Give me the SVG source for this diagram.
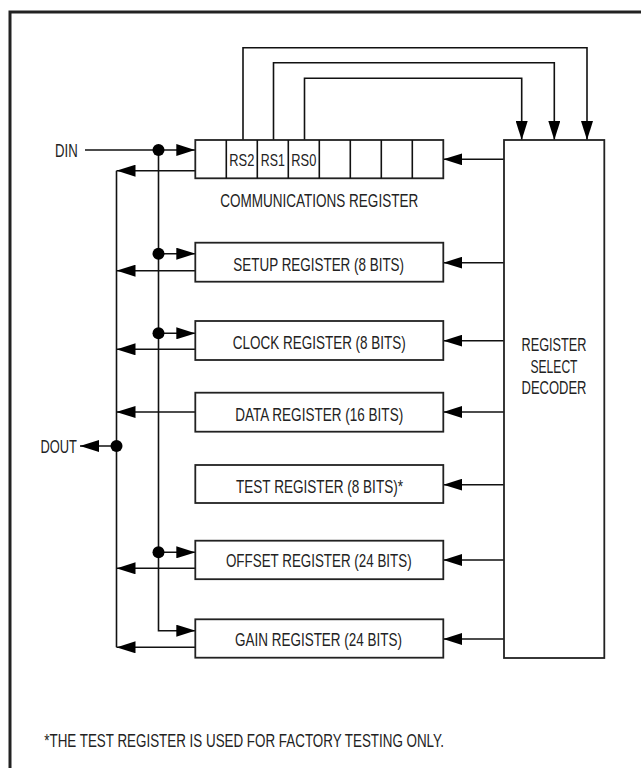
<svg xmlns="http://www.w3.org/2000/svg" width="641" height="768" viewBox="0 0 641 768">
  <style>
    .frame { fill: none; stroke: #222; stroke-width: 3; }
    .box { fill: #fff; stroke: #222; stroke-width: 1.8; }
    .ln { fill: none; stroke: #111; stroke-width: 1.6; }
    .arr { fill: none; stroke: #111; stroke-width: 1.6; marker-end: url(#ah); }
    .dot { fill: #000; }
    .t { font-family: "Liberation Sans", Arial, sans-serif; font-size: 18.5px; fill: #222; }
    .s { font-size: 17px; }
    .c { text-anchor: middle; }
  </style>
  <defs>
    <marker id="ah" viewBox="0 0 19 12" refX="19" refY="6" markerWidth="19" markerHeight="12" orient="auto" markerUnits="userSpaceOnUse">
      <path d="M0,0 L19,6 L0,12 Z" fill="#000"/>
    </marker>
  </defs>
  <rect width="641" height="768" fill="#fff"/>
  <path class="frame" d="M10,768 V12 H641"/>

  <g id="connectors">
    <!-- feedback RS bits to decoder -->
    <path class="arr" d="M243,140 V47.7 H587 V140"/>
    <path class="arr" d="M273.5,140 V62.7 H554.3 V140"/>
    <path class="arr" d="M304.5,140 V78.3 H521.7 V140"/>
    <!-- DIN -->
    <path class="arr" d="M85,150 H195.3"/>
    <path class="arr" d="M158.5,150 V630.7 H195.3"/>
    <path class="arr" d="M158.5,253.7 H195.3"/>
    <path class="arr" d="M158.5,333.3 H195.3"/>
    <path class="arr" d="M158.5,552.3 H195.3"/>
    <circle class="dot" cx="158.5" cy="150" r="6"/>
    <circle class="dot" cx="158.5" cy="253.7" r="6"/>
    <circle class="dot" cx="158.5" cy="333.3" r="6"/>
    <circle class="dot" cx="158.5" cy="552.3" r="6"/>
    <!-- DOUT bus -->
    <path class="ln" d="M116.5,170.7 V647.3"/>
    <path class="arr" d="M195.3,170.7 H116.5"/>
    <path class="arr" d="M195.3,270.7 H116.5"/>
    <path class="arr" d="M195.3,349.3 H116.5"/>
    <path class="arr" d="M195.3,412 H116.5"/>
    <path class="arr" d="M195.3,568.3 H116.5"/>
    <path class="arr" d="M195.3,647.3 H116.5"/>
    <path class="arr" d="M116.5,446 H80"/>
    <circle class="dot" cx="116.5" cy="446" r="6"/>
    <!-- decoder select lines -->
    <path class="arr" d="M504,159.3 H443.3"/>
    <path class="arr" d="M504,262.7 H443.3"/>
    <path class="arr" d="M504,340.7 H443.3"/>
    <path class="arr" d="M504,412 H443.3"/>
    <path class="arr" d="M504,484.7 H443.3"/>
    <path class="arr" d="M504,560 H443.3"/>
    <path class="arr" d="M504,639 H443.3"/>
  </g>

  <g id="din">
    <text class="t" x="55" y="156.5" textLength="22.7" lengthAdjust="spacingAndGlyphs">DIN</text>
  </g>
  <g id="dout">
    <text class="t" x="40.5" y="452.5" textLength="36.5" lengthAdjust="spacingAndGlyphs">DOUT</text>
  </g>

  <g id="comm-register">
    <rect class="box" x="195.3" y="140" width="248" height="38.3"/>
    <path class="ln" d="M226.3,140 V178.3 M257.3,140 V178.3 M288.3,140 V178.3 M319.3,140 V178.3 M350.3,140 V178.3 M381.3,140 V178.3 M412.3,140 V178.3"/>
    <text class="t s c" x="241.8" y="165.5" textLength="25" lengthAdjust="spacingAndGlyphs">RS2</text>
    <text class="t s c" x="272.8" y="165.5" textLength="24" lengthAdjust="spacingAndGlyphs">RS1</text>
    <text class="t s c" x="303.8" y="165.5" textLength="25" lengthAdjust="spacingAndGlyphs">RS0</text>
    <text class="t c" x="319.2" y="206.7" textLength="198" lengthAdjust="spacingAndGlyphs">COMMUNICATIONS REGISTER</text>
  </g>

  <g id="setup-register">
    <rect class="box" x="195.3" y="242.7" width="248" height="39"/>
    <text class="t c" x="318.7" y="271" textLength="170.7" lengthAdjust="spacingAndGlyphs">SETUP REGISTER (8 BITS)</text>
  </g>
  <g id="clock-register">
    <rect class="box" x="195.3" y="321" width="248" height="39"/>
    <text class="t c" x="319.3" y="349" textLength="173" lengthAdjust="spacingAndGlyphs">CLOCK REGISTER (8 BITS)</text>
  </g>
  <g id="data-register">
    <rect class="box" x="195.3" y="392.7" width="248" height="39"/>
    <text class="t c" x="319.2" y="420.7" textLength="168" lengthAdjust="spacingAndGlyphs">DATA REGISTER (16 BITS)</text>
  </g>
  <g id="test-register">
    <rect class="box" x="195.3" y="465" width="248" height="38"/>
    <text class="t c" x="319.5" y="492.7" textLength="167" lengthAdjust="spacingAndGlyphs">TEST REGISTER (8 BITS)*</text>
  </g>
  <g id="offset-register">
    <rect class="box" x="195.3" y="540.7" width="248" height="38.5"/>
    <text class="t c" x="318.8" y="567.3" textLength="185.7" lengthAdjust="spacingAndGlyphs">OFFSET REGISTER (24 BITS)</text>
  </g>
  <g id="gain-register">
    <rect class="box" x="195.3" y="619.3" width="248" height="38.4"/>
    <text class="t c" x="318.5" y="646" textLength="167" lengthAdjust="spacingAndGlyphs">GAIN REGISTER (24 BITS)</text>
  </g>

  <g id="register-select-decoder">
    <rect class="box" x="504" y="140" width="100.3" height="518"/>
    <text class="t c" x="554" y="351" textLength="65" lengthAdjust="spacingAndGlyphs">REGISTER</text>
    <text class="t c" x="554" y="372.7" textLength="47" lengthAdjust="spacingAndGlyphs">SELECT</text>
    <text class="t c" x="554" y="394.3" textLength="65" lengthAdjust="spacingAndGlyphs">DECODER</text>
  </g>

  <g id="footnote">
    <text class="t" x="44.3" y="746.7" textLength="399.7" lengthAdjust="spacingAndGlyphs">*THE TEST REGISTER IS USED FOR FACTORY TESTING ONLY.</text>
  </g>
</svg>
